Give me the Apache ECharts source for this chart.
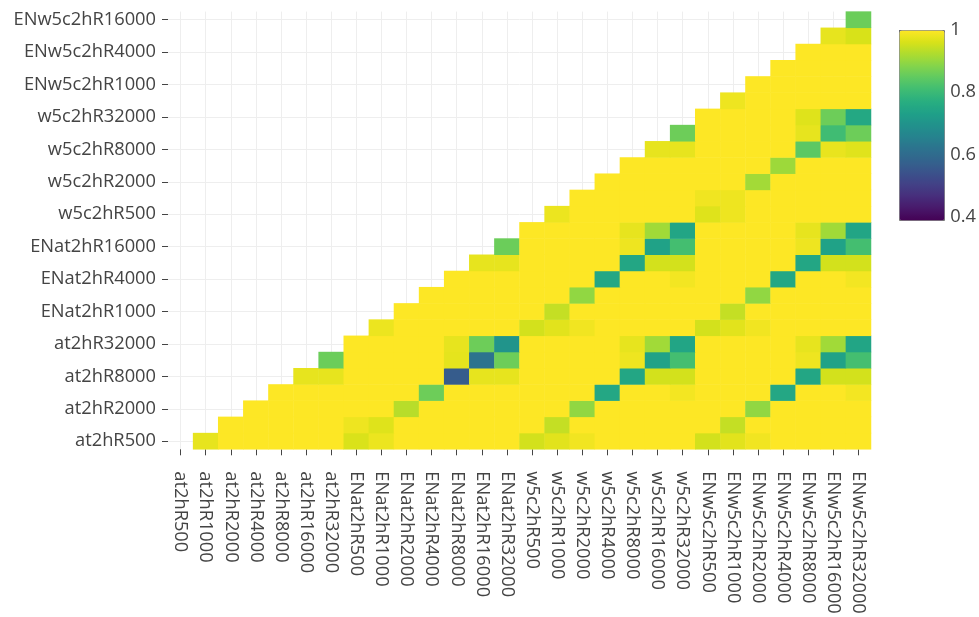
<!DOCTYPE html>
<html>
<head>
<meta charset="utf-8">
<script src="https://cdn.jsdelivr.net/npm/echarts@6/dist/echarts.min.js"></script>
<style>
  html, body { margin: 0; padding: 0; background: #ffffff; }
  #chart { width: 979px; height: 617px; }
</style>
</head>
<body>
<div id="chart"></div>
<script>
// Run names: four model families, seven resolutions each
const xLabels = [
  'at2hR500', 'at2hR1000', 'at2hR2000', 'at2hR4000', 'at2hR8000', 'at2hR16000', 'at2hR32000',
  'ENat2hR500', 'ENat2hR1000', 'ENat2hR2000', 'ENat2hR4000', 'ENat2hR8000', 'ENat2hR16000', 'ENat2hR32000',
  'w5c2hR500', 'w5c2hR1000', 'w5c2hR2000', 'w5c2hR4000', 'w5c2hR8000', 'w5c2hR16000', 'w5c2hR32000',
  'ENw5c2hR500', 'ENw5c2hR1000', 'ENw5c2hR2000', 'ENw5c2hR4000', 'ENw5c2hR8000', 'ENw5c2hR16000', 'ENw5c2hR32000'
];
// Rows stop one short: the last run only ever appears as a column
const yLabels = xLabels.slice(0, 27);

// Pairwise similarity, upper triangle only.
// corrRows[r] holds the values for columns r+1 .. 27 of row r.
const corrRows = [
  /* at2hR500 */     [0.977, 1, 1, 1, 1, 1,  0.964, 0.982, 1, 1, 1, 1, 1,  0.957, 0.972, 0.988, 1, 1, 1, 1,  0.957, 0.972, 0.988, 1, 1, 1, 1],
  /* at2hR1000 */    [1, 1, 1, 1, 1,  0.985, 0.969, 1, 1, 1, 1, 1,  1, 0.944, 1, 1, 1, 1, 1,  1, 0.944, 1, 1, 1, 1, 1],
  /* at2hR2000 */    [1, 1, 1, 1,  1, 1, 0.933, 1, 1, 1, 1,  1, 1, 0.898, 1, 1, 1, 1,  1, 1, 0.898, 1, 1, 1, 1],
  /* at2hR4000 */    [1, 1, 1,  1, 1, 1, 0.862, 1, 1, 1,  1, 1, 1, 0.752, 1, 1, 0.99,  1, 1, 1, 0.752, 1, 1, 0.99],
  /* at2hR8000 */    [0.977, 0.977,  1, 1, 1, 1, 0.565, 0.977, 0.977,  1, 1, 1, 1, 0.75, 0.957, 0.957,  1, 1, 1, 1, 0.75, 0.957, 0.957],
  /* at2hR16000 */   [0.86,  1, 1, 1, 1, 0.975, 0.62, 0.862,  1, 1, 1, 1, 0.985, 0.738, 0.815,  1, 1, 1, 1, 0.985, 0.738, 0.815],
  /* at2hR32000 */   [1, 1, 1, 1, 0.977, 0.862, 0.703,  1, 1, 1, 1, 0.977, 0.912, 0.745,  1, 1, 1, 1, 0.977, 0.912, 0.745],
  /* ENat2hR500 */   [0.982, 1, 1, 1, 1, 1,  0.957, 0.972, 0.988, 1, 1, 1, 1,  0.957, 0.972, 0.988, 1, 1, 1, 1],
  /* ENat2hR1000 */  [1, 1, 1, 1, 1,  1, 0.944, 1, 1, 1, 1, 1,  1, 0.944, 1, 1, 1, 1, 1],
  /* ENat2hR2000 */  [1, 1, 1, 1,  1, 1, 0.898, 1, 1, 1, 1,  1, 1, 0.898, 1, 1, 1, 1],
  /* ENat2hR4000 */  [1, 1, 1,  1, 1, 1, 0.752, 1, 1, 0.99,  1, 1, 1, 0.752, 1, 1, 0.99],
  /* ENat2hR8000 */  [0.977, 0.977,  1, 1, 1, 1, 0.75, 0.957, 0.957,  1, 1, 1, 1, 0.75, 0.957, 0.957],
  /* ENat2hR16000 */ [0.86,  1, 1, 1, 1, 0.985, 0.738, 0.815,  1, 1, 1, 1, 0.985, 0.738, 0.815],
  /* ENat2hR32000 */ [1, 1, 1, 1, 0.977, 0.912, 0.745,  1, 1, 1, 1, 0.977, 0.912, 0.745],
  /* w5c2hR500 */    [0.982, 1, 1, 1, 1, 1,  0.969, 0.985, 1, 1, 1, 1, 1],
  /* w5c2hR1000 */   [1, 1, 1, 1, 1,  0.987, 0.985, 1, 1, 1, 1, 1],
  /* w5c2hR2000 */   [1, 1, 1, 1,  1, 1, 0.914, 1, 1, 1, 1],
  /* w5c2hR4000 */   [1, 1, 1,  1, 1, 1, 0.909, 1, 1, 1],
  /* w5c2hR8000 */   [0.977, 0.977,  1, 1, 1, 1, 0.845, 0.979, 0.97],
  /* w5c2hR16000 */  [0.862,  1, 1, 1, 1, 0.977, 0.81, 0.862],
  /* w5c2hR32000 */  [1, 1, 1, 1, 0.969, 0.862, 0.755],
  /* ENw5c2hR500 */  [0.985, 1, 1, 1, 1, 1],
  /* ENw5c2hR1000 */ [1, 1, 1, 1, 1],
  /* ENw5c2hR2000 */ [1, 1, 1, 1],
  /* ENw5c2hR4000 */ [1, 1, 1],
  /* ENw5c2hR8000 */ [0.977, 0.962],
  /* ENw5c2hR16000 */[0.86]
];

// Colour scale range and the ticks printed beside it
const colorMin = 0.389;
const colorMax = 1;
const colorTicks = [0.4, 0.6, 0.8, 1];

const viridis = [
  '#440154', '#48186a', '#472d7b', '#424086', '#3b528b', '#33638d', '#2c728e', '#26828e',
  '#21918c', '#1fa088', '#28ae80', '#3fbc73', '#5ec962', '#84d44b', '#addc30', '#d8e219', '#fde725'
];

// [column, row, value] triples for the heatmap
const cells = [];
corrRows.forEach((vals, r) => {
  vals.forEach((v, k) => cells.push([r + 1 + k, r, v]));
});

const font = 'Open Sans, Noto Sans, sans-serif';
const textColor = '#444';
const fs = 18.3;

const chart = echarts.init(document.getElementById('chart'), null, { renderer: 'canvas' });
chart.setOption({
  animation: false,
  backgroundColor: '#ffffff',
  textStyle: { fontFamily: font },
  grid: [
    { left: 168, right: 108, top: 11.6, bottom: 167.7, containLabel: false },
    { left: 899, top: 30, width: 45, height: 190, show: false }
  ],
  xAxis: [
    {
      type: 'category',
      gridIndex: 0,
      data: xLabels,
      boundaryGap: true,
      axisLine: { show: false },
      axisTick: { show: true, alignWithLabel: true, interval: 0, length: 6, lineStyle: { color: textColor } },
      axisLabel: { interval: 0, rotate: -90, margin: 22, fontSize: fs, color: textColor, fontFamily: font },
      splitLine: { show: true, interval: 0, alignWithLabel: true, lineStyle: { color: '#eeeeee', width: 1 } }
    },
    { type: 'value', gridIndex: 1, show: false, min: 0, max: 1 }
  ],
  yAxis: [
    {
      type: 'category',
      gridIndex: 0,
      data: yLabels,
      boundaryGap: true,
      axisLine: { show: false },
      axisTick: { show: true, alignWithLabel: true, interval: 1, length: 6, lineStyle: { color: textColor } },
      axisLabel: { interval: 1, margin: 12, fontSize: fs, color: textColor, fontFamily: font },
      splitLine: { show: true, interval: 1, alignWithLabel: true, lineStyle: { color: '#eeeeee', width: 1 } }
    },
    {
      type: 'value',
      gridIndex: 1,
      position: 'right',
      min: colorMin,
      max: colorMax,
      axisLine: { show: false },
      splitLine: { show: false },
      axisTick: { show: true, length: 5, customValues: colorTicks, lineStyle: { color: textColor } },
      axisLabel: { customValues: colorTicks, margin: 8, fontSize: fs, color: textColor, fontFamily: font }
    }
  ],
  visualMap: {
    type: 'continuous',
    min: colorMin,
    max: colorMax,
    dimension: 2,
    seriesIndex: 0,
    calculable: false,
    hoverLink: false,
    orient: 'vertical',
    left: 899,
    top: 30,
    itemWidth: 45,
    itemHeight: 190,
    padding: 0,
    text: null,
    borderColor: '#777',
    borderWidth: 1,
    inRange: { color: viridis }
  },
  series: [{
    type: 'heatmap',
    xAxisIndex: 0,
    yAxisIndex: 0,
    data: cells,
    itemStyle: { borderWidth: 0 },
    emphasis: { disabled: true }
  }]
});
</script>
</body>
</html>
